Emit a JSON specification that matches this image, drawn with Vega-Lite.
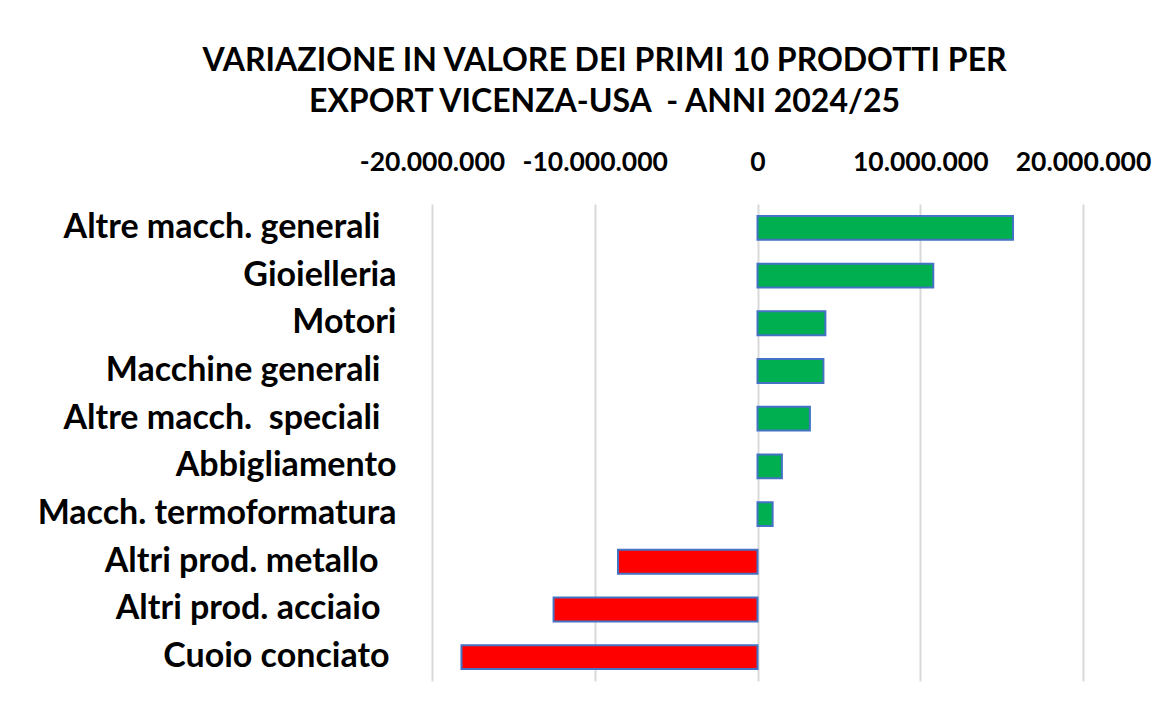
{
  "$schema": "https://vega.github.io/schema/vega-lite/v6.json",
  "width": 651,
  "height": 477,
  "autosize": {"type": "none"},
  "padding": {"left": 432, "top": 204, "right": 86, "bottom": 29},
  "background": "white",
  "title": {
    "text": ["VARIAZIONE IN VALORE DEI PRIMI 10 PRODOTTI PER", "EXPORT VICENZA-USA\u00a0 - ANNI 2024/25"],
    "anchor": "middle",
    "dx": -153,
    "offset": 30,
    "font": "Lato",
    "fontSize": 32,
    "fontWeight": "bold",
    "color": "#000000",
    "lineHeight": 41
  },
  "config": {
    "locale": {"number": {"decimal": ",", "thousands": ".", "grouping": [3], "currency": ["€", ""], "minus": "-"}},
    "view": {"stroke": null},
    "axis": {"labelFont": "Lato", "labelColor": "#000000", "labelFontWeight": "bold"}
  },
  "data": {
    "values": [
      {"prodotto": "Altre macch. generali", "variazione": 15700000},
      {"prodotto": "Gioielleria", "variazione": 10800000},
      {"prodotto": "Motori", "variazione": 4170000},
      {"prodotto": "Macchine generali", "variazione": 4050000},
      {"prodotto": "Altre macch.\u00a0 speciali", "variazione": 3220000},
      {"prodotto": "Abbigliamento", "variazione": 1500000},
      {"prodotto": "Macch. termoformatura", "variazione": 930000},
      {"prodotto": "Altri prod. metallo", "variazione": -8570000},
      {"prodotto": "Altri prod. acciaio", "variazione": -12530000},
      {"prodotto": "Cuoio conciato", "variazione": -18190000}
    ]
  },
  "mark": {"type": "bar", "stroke": "#4472C4", "strokeWidth": 2},
  "encoding": {
    "y": {
      "field": "prodotto",
      "type": "nominal",
      "sort": null,
      "scale": {"paddingInner": 0.5, "paddingOuter": 0.25},
      "axis": {
        "title": null,
        "domain": false,
        "ticks": false,
        "labelPadding": {
          "condition": [
            {"test": "datum.value === 'Cuoio conciato'", "value": 43},
            {"test": "datum.value === 'Altri prod. metallo'", "value": 54},
            {"test": "indexof(['Gioielleria','Motori','Abbigliamento','Macch. termoformatura'], datum.value) < 0", "value": 52}
          ],
          "value": 36
        },
        "labelFontSize": 34,
        "labelLimit": 500
      }
    },
    "x": {
      "field": "variazione",
      "type": "quantitative",
      "scale": {"domain": [-20000000, 20000000], "nice": false},
      "axis": {
        "orient": "top",
        "title": null,
        "values": [-20000000, -10000000, 0, 10000000, 20000000],
        "format": ",d",
        "domain": false,
        "ticks": false,
        "labelOverlap": false,
        "labelFlush": false,
        "labelPadding": 28,
        "labelFontSize": 26.5,
        "grid": true,
        "gridColor": "#d9d9d9",
        "gridWidth": 2
      }
    },
    "color": {
      "condition": {"test": "datum.variazione < 0", "value": "#FF0000"},
      "value": "#00B050"
    }
  }
}
